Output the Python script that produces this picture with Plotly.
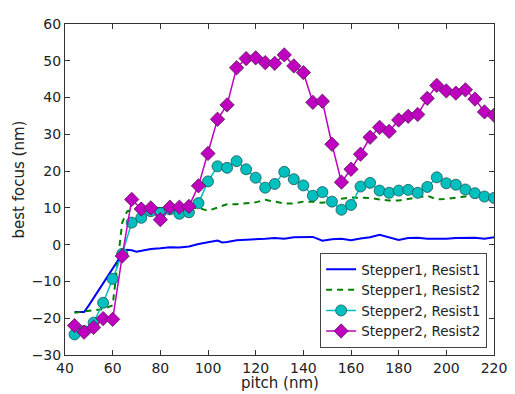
import plotly.graph_objects as go

# ---- data ----
s1r1_x = [44, 48, 50, 52, 56, 60, 64, 66, 68, 70, 72, 76, 80, 84, 88, 92, 96, 100, 104, 106,
          108, 112, 116, 120, 124, 128, 132, 136, 140, 144, 148, 152, 156, 160, 164, 168,
          172, 176, 180, 184, 188, 192, 196, 200, 204, 208, 212, 216, 220]
s1r1_y = [-18.3, -18.3, -16.5, -14.5, -10.8, -6.7, -2.5, -1.4, -1.5, -1.9, -1.6, -1.2, -1.0,
          -0.7, -0.8, -0.5, 0.2, 0.7, 1.1, 0.6, 0.7, 1.2, 1.3, 1.5, 1.6, 1.8, 1.6, 2.0, 2.0,
          2.1, 1.1, 1.5, 1.6, 1.2, 1.7, 2.0, 2.7, 2.0, 1.3, 1.8, 1.9, 1.6, 1.5, 1.6, 1.8,
          1.9, 1.9, 1.6, 2.0]

s1r2_x = [44, 48, 52, 56, 60, 62, 64, 66, 68, 72, 76, 80, 84, 88, 92, 96, 100, 104, 108, 112,
          116, 120, 124, 128, 132, 136, 140, 144, 148, 152, 156, 160, 164, 168, 172, 176,
          180, 184, 188, 192, 196, 200, 204, 208, 212, 216, 220]
s1r2_y = [-18.5, -18.2, -17.8, -17.5, -16.5, -5.0, 6.0, 9.0, 9.5, 10.0, 10.2, 10.0, 10.0,
          10.0, 10.0, 10.0, 9.2, 10.0, 11.0, 11.0, 11.2, 11.5, 12.2, 11.8, 11.2, 11.2, 11.7,
          11.7, 11.4, 11.8, 12.5, 12.8, 12.8, 12.7, 12.3, 12.0, 12.0, 12.4, 13.0, 13.3, 12.3,
          12.4, 12.8, 13.1, 12.9, 12.5, 12.2]

pitch = [44, 48, 52, 56, 60, 64, 68, 72, 76, 80, 84, 88, 92, 96, 100, 104, 108, 112, 116,
         120, 124, 128, 132, 136, 140, 144, 148, 152, 156, 160, 164, 168, 172, 176, 180,
         184, 188, 192, 196, 200, 204, 208, 212, 216, 220]
s2r1_y = [-24.4, -23.5, -21.2, -15.8, -9.3, -2.5, 6.0, 7.3, 9.1, 8.6, 9.6, 8.4, 8.8, 11.3,
          17.2, 21.3, 20.9, 22.7, 20.5, 18.2, 15.5, 16.5, 19.8, 17.8, 16.1, 13.3, 14.3, 11.7,
          9.5, 10.8, 15.8, 16.8, 14.7, 14.1, 14.7, 14.9, 14.1, 15.7, 18.3, 16.7, 16.3, 15.0,
          14.0, 13.1, 12.7]
s2r2_y = [-22.0, -23.8, -22.5, -20.1, -20.3, -3.1, 12.3, 9.7, 10.0, 6.8, 10.2, 10.2, 10.4,
          16.0, 24.8, 34.1, 38.0, 48.1, 50.6, 50.8, 49.5, 49.3, 51.6, 48.6, 46.8, 38.7, 39.0,
          27.3, 17.0, 20.5, 24.6, 29.2, 31.9, 30.8, 33.9, 34.9, 35.4, 39.8, 43.3, 41.8, 41.2,
          42.1, 39.6, 36.1, 35.2]

names = ["Stepper1, Resist1", "Stepper1, Resist2", "Stepper2, Resist1", "Stepper2, Resist2"]
x_ticks = [40, 60, 80, 100, 120, 140, 160, 180, 200, 220]
y_ticks = [-30, -20, -10, 0, 10, 20, 30, 40, 50, 60]
x_title = "pitch (nm)"
y_title = "best focus (nm)"

FONT = "DejaVu Sans"

fig = go.Figure()
fig.add_trace(go.Scatter(x=s1r1_x, y=s1r1_y, mode="lines", name=names[0],
                         line=dict(color="#0000ff", width=2)))
fig.add_trace(go.Scatter(x=s1r2_x, y=s1r2_y, mode="lines", name=names[1],
                         line=dict(color="#008000", width=2, dash="6px,5px")))
fig.add_trace(go.Scatter(x=pitch, y=s2r1_y, mode="lines+markers", name=names[2],
                         line=dict(color="#00bfbf", width=1.5),
                         marker=dict(symbol="circle", size=11, color="#00bfbf",
                                     line=dict(color="#1a5555", width=0.8))))
fig.add_trace(go.Scatter(x=pitch, y=s2r2_y, mode="lines+markers", name=names[3],
                         line=dict(color="#bf00bf", width=1.5),
                         marker=dict(symbol="diamond", size=11, color="#bf00bf",
                                     line=dict(color="#551a55", width=0.8))))

axis_common = dict(showgrid=False, zeroline=False, showline=True, linecolor="#333",
                   linewidth=1, mirror="ticks", ticks="inside", ticklen=5,
                   tickcolor="#333", ticklabeloverflow="allow",
                   tickfont=dict(family=FONT, size=14, color="#222"))
fig.update_xaxes(range=[40, 220], tickvals=x_ticks, **axis_common)
fig.update_yaxes(range=[-30, 60], tickvals=y_ticks, **axis_common)

# the page body adds an 8px offset, so the figure is sized to fit the window
fig.update_layout(
    width=507, height=386,
    margin=dict(l=57, r=13, t=8, b=39),
    paper_bgcolor="white", plot_bgcolor="white",
    legend=dict(x=0.984, y=0.021, xanchor="right", yanchor="bottom",
                bgcolor="white", bordercolor="#444", borderwidth=1,
                font=dict(family=FONT, size=13.5, color="#222"),
                tracegroupgap=0, itemwidth=30),
    showlegend=True,
    annotations=[
        dict(text=x_title, xref="paper", yref="paper", x=0.5, y=-0.085,
             xanchor="center", yanchor="middle", showarrow=False,
             font=dict(family=FONT, size=15, color="#222")),
        dict(text=y_title, xref="paper", yref="paper", x=-0.1075, y=0.53,
             xanchor="center", yanchor="middle", showarrow=False, textangle=-90,
             font=dict(family=FONT, size=15, color="#222")),
    ],
)

fig.write_html("out.html")
